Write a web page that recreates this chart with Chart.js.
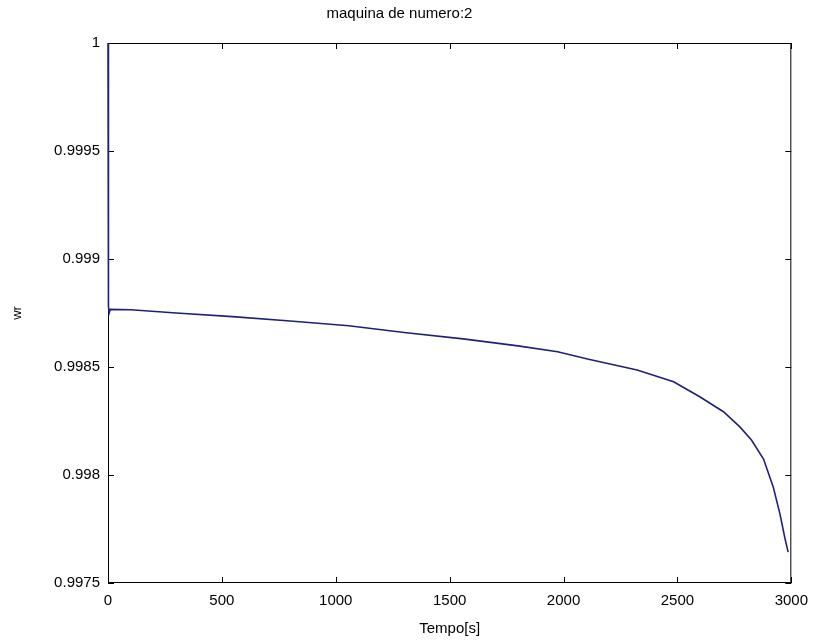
<!DOCTYPE html>
<html lang="pt">
  <head>
    <meta charset="UTF-8" />
    <title>maquina de numero:2</title>
    <script src="https://cdn.jsdelivr.net/npm/chart.js"></script>
    <style>
      html, body { margin: 0; padding: 0; background: #fff; }
      #wrap { width: 817px; height: 643px; }
    </style>
  </head>
  <body>
    <div id="wrap"><canvas id="chart"></canvas></div>
    <script>
      // values
      const tempo = [0, 2, 5, 10, 100, 300, 546, 800, 1057, 1300, 1559, 1800, 1974, 2105, 2323,
                     2483, 2598, 2702, 2773, 2825, 2878, 2921, 2950, 2971, 2986];
      const wr = [1, 0.99878, 0.99875, 0.998767, 0.998765, 0.99875, 0.998733, 0.998713, 0.998691,
                  0.99866, 0.99863, 0.998598, 0.998571, 0.998537, 0.998486, 0.998432, 0.998362,
                  0.998293, 0.998224, 0.998162, 0.998074, 0.997943, 0.99782, 0.997712, 0.997643];
      const xTicks = [0, 500, 1000, 1500, 2000, 2500, 3000];
      const yTicks = [0.9975, 0.998, 0.9985, 0.999, 0.9995, 1];

      const FONT = "'Liberation Sans', Arial, sans-serif";

      // matlab style box with inward ticks on every side, drawn under the line
      const boxTicks = {
        id: "boxTicks",
        beforeDatasetsDraw(chart) {
          const { ctx, chartArea: a, scales } = chart;
          const len = 6;
          ctx.save();
          ctx.strokeStyle = "#000";
          ctx.lineWidth = 1;
          ctx.beginPath();
          ctx.rect(a.left + 0.5, a.top + 0.5, a.right - a.left - 1, a.bottom - a.top - 1);
          xTicks.forEach((v) => {
            const x = Math.round(scales.x.getPixelForValue(v)) + 0.5;
            ctx.moveTo(x, a.bottom); ctx.lineTo(x, a.bottom - len);
            ctx.moveTo(x, a.top); ctx.lineTo(x, a.top + len);
          });
          yTicks.forEach((v) => {
            const y = Math.round(scales.y.getPixelForValue(v)) + 0.5;
            ctx.moveTo(a.left, y); ctx.lineTo(a.left + len, y);
            ctx.moveTo(a.right, y); ctx.lineTo(a.right - len, y);
          });
          ctx.stroke();
          ctx.restore();
        },
      };

      new Chart(document.getElementById("chart"), {
        type: "line",
        data: {
          datasets: [
            {
              label: "wr",
              data: tempo.map((t, i) => ({ x: t, y: wr[i] })),
              borderColor: "#20207a",
              borderWidth: 1.6,
              pointRadius: 0,
              tension: 0,
              clip: 4,
            },
          ],
        },
        options: {
          responsive: true,
          maintainAspectRatio: false,
          animation: false,
          layout: { padding: { left: 0, right: 18, top: 0, bottom: 3 } },
          plugins: {
            legend: { display: false },
            tooltip: { enabled: false },
            title: {
              display: true,
              text: "maquina de numero:2",
              color: "#000",
              font: { family: FONT, size: 15, weight: "normal" },
              padding: { top: 5, bottom: 20 },
            },
          },
          scales: {
            x: {
              type: "linear",
              min: 0,
              max: 3000,
              afterBuildTicks: (s) => { s.ticks = xTicks.map((v) => ({ value: v })); },
              afterFit: (s) => { s.height = 57; },
              grid: { display: false, drawTicks: false },
              border: { display: false },
              ticks: { color: "#000", padding: 9, maxRotation: 0, font: { family: FONT, size: 15 }, callback: (v) => String(v) },
              title: { display: true, text: "Tempo[s]", color: "#000", padding: { top: 0, bottom: 2 }, font: { family: FONT, size: 15 } },
            },
            y: {
              type: "linear",
              min: 0.9975,
              max: 1,
              afterBuildTicks: (s) => { s.ticks = yTicks.map((v) => ({ value: v })); },
              afterFit: (s) => { s.width = 108; },
              grid: { display: false, drawTicks: false },
              border: { display: false },
              ticks: { color: "#000", padding: 8, font: { family: FONT, size: 15 }, callback: (v) => String(v) },
              title: { display: true, text: "wr", color: "#000", padding: { top: 10, bottom: 0 }, font: { family: FONT, size: 13 } },
            },
          },
        },
        plugins: [boxTicks],
      });
    </script>
  </body>
</html>
